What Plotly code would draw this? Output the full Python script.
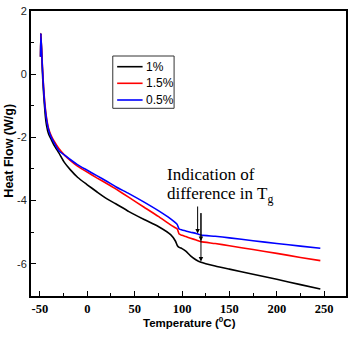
import plotly.graph_objects as go

# ---- data ----
temperature = [-49.3, -49.0, -48, -47, -46, -45, -44, -43, -41, -38, -35, -30, -24, -18, -10,
               0, 10, 20, 30, 44, 60, 75, 88, 93, 95, 97, 100, 104, 109, 115, 120,
               135, 150, 175, 200, 225, 246]

hf_1 = [0.55, 1.29, 0.55, -0.15, -0.65, -1.05, -1.40, -1.62, -1.88, -2.07, -2.25, -2.49, -2.80, -3.02, -3.27,
        -3.50, -3.72, -3.93, -4.10, -4.35, -4.60, -4.82, -5.08, -5.28, -5.42, -5.48, -5.52, -5.60, -5.75, -5.88, -5.95,
        -6.07, -6.17, -6.33, -6.49, -6.66, -6.80]

hf_15 = [0.55, 1.29, 0.65, 0.05, -0.45, -0.85, -1.15, -1.38, -1.70, -1.95, -2.12, -2.35, -2.56, -2.73, -2.92,
         -3.10, -3.28, -3.45, -3.63, -3.90, -4.21, -4.50, -4.77, -4.86, -4.90, -5.06, -5.10, -5.14, -5.19, -5.25, -5.30,
         -5.36, -5.43, -5.55, -5.67, -5.80, -5.90]

hf_05 = [0.55, 1.29, 0.60, 0.00, -0.50, -0.92, -1.20, -1.43, -1.74, -2.00, -2.17, -2.42, -2.56, -2.70, -2.87,
         -3.04, -3.21, -3.38, -3.56, -3.78, -4.05, -4.32, -4.58, -4.70, -4.76, -4.90, -4.93, -4.96, -5.00, -5.04, -5.09,
         -5.13, -5.18, -5.27, -5.36, -5.44, -5.51]

series_names = ["1%", "1.5%", "0.5%"]
series_values = [hf_1, hf_15, hf_05]
series_colors = ["#000000", "#ff0000", "#0000ff"]

x_ticks = [-50, 0, 50, 100, 150, 200, 250]
y_ticks = [-6, -4, -2, 0, 2]

fig = go.Figure()
for name, vals, col in zip(series_names, series_values, series_colors):
    fig.add_trace(go.Scatter(x=temperature, y=vals, mode="lines", name=name,
                             line=dict(color=col, width=1.6, shape="spline", smoothing=0.6),
                             showlegend=False))

W, H = 353, 338
L, R, T, B = 31, 5, 11, 42
pw, ph = W - L - R, H - T - B

def px(xp):
    return (xp - L) / pw

def py(yp):
    return (H - B - yp) / ph

fig.update_layout(
    width=W, height=H,
    margin=dict(l=L, r=R, t=T, b=B),
    paper_bgcolor="white", plot_bgcolor="white",
    xaxis=dict(range=[-59.4, 273.1], tickvals=x_ticks, ticktext=["<b>%d</b>" % v for v in x_ticks],
               ticks="inside", ticklen=5, tickwidth=1.2, tickcolor="black",
               minor=dict(dtick=25, tick0=0, ticks="inside", ticklen=3, tickcolor="black"),
               showline=True, linewidth=2, linecolor="black", mirror=True,
               showgrid=False, zeroline=False,
               tickfont=dict(family="Liberation Serif", size=12.5, color="black")),
    yaxis=dict(range=[-7.02, 2], tickvals=y_ticks, ticktext=[str(v) for v in y_ticks],
               ticks="inside", ticklen=5, tickwidth=1.2, tickcolor="black",
               minor=dict(dtick=1, tick0=0, ticks="inside", ticklen=3, tickcolor="black"),
               showline=True, linewidth=2, linecolor="black", mirror=True,
               showgrid=False, zeroline=False,
               tickfont=dict(family="Liberation Sans", size=11, color="#222")),
)

# manual legend
lx0, lx1, ly0, ly1 = 113.3, 175, 56, 108.3
fig.add_shape(type="rect", xref="paper", yref="paper", x0=px(lx0), x1=px(lx1),
              y0=py(ly1), y1=py(ly0), line=dict(color="#333", width=1), fillcolor="white")
rows = [66.7, 83.3, 100]
for name, col, ry in zip(series_names, series_colors, rows):
    fig.add_shape(type="line", xref="paper", yref="paper", x0=px(117.7), x1=px(143.3),
                  y0=py(ry), y1=py(ry), line=dict(color=col, width=1.6))
    fig.add_annotation(xref="paper", yref="paper", x=px(144.5), y=py(ry), text=name,
                       xanchor="left", yanchor="middle", showarrow=False,
                       font=dict(family="Liberation Sans", size=12, color="black"))

# text annotation
serif = dict(family="Liberation Serif", size=17, color="black")
fig.add_annotation(x=82.2, y=-3.19, text="Indication of", xanchor="left", yanchor="middle",
                   showarrow=False, font=serif)
fig.add_annotation(x=82.2, y=-3.82, text="difference in T<sub>g</sub>", xanchor="left", yanchor="middle",
                   showarrow=False, font=serif)

# arrows
for (xa, ytip, ytail) in [(116.5, -5.04, -4.14), (120, -5.28, -4.35), (120, -5.93, -4.35)]:
    fig.add_annotation(x=xa, y=ytip, ax=xa, ay=ytail, xref="x", yref="y", axref="x", ayref="y",
                       showarrow=True, arrowhead=2, arrowsize=0.9, arrowwidth=1, arrowcolor="black",
                       standoff=0, text="")

# axis titles
fig.add_annotation(xref="paper", yref="paper", x=px(191), y=py(322),
                   text="<b>Temperature (<sup>0</sup>C)</b>", showarrow=False,
                   xanchor="center", yanchor="middle",
                   font=dict(family="Liberation Sans", size=11.5, color="black"))
fig.add_annotation(xref="paper", yref="paper", x=px(8), y=py(150.5),
                   text="<b>Heat Flow (W/g)</b>", showarrow=False, textangle=-90,
                   xanchor="center", yanchor="middle",
                   font=dict(family="Liberation Sans", size=12.5, color="black"))

fig.write_html("out.html")
